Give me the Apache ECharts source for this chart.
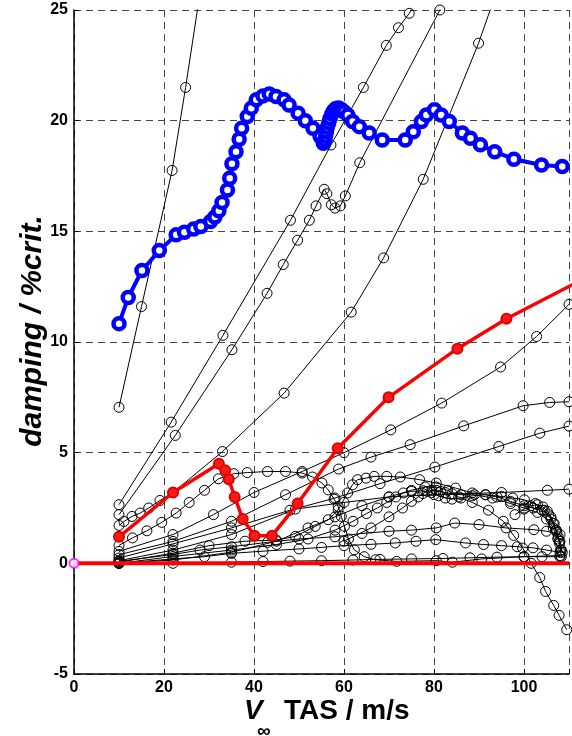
<!DOCTYPE html>
<html>
<head>
<meta charset="utf-8">
<script src="https://cdn.jsdelivr.net/npm/echarts@6/dist/echarts.min.js"></script>
<style>html,body{margin:0;padding:0;background:#fff}#c{width:572px;height:736px}</style>
</head>
<body>
<div id="c"></div>
<script>
// ---- tick labels ----
var xTicks = [0, 20, 40, 60, 80, 100];
var yTicks = [-5, 0, 5, 10, 15, 20, 25];

// ---- highlighted series ----
var blueSeries = [[10,10.83],[12.05,12.01],[15.1,13.23],[18.95,14.13],[22.7,14.84],[24.55,14.96],[26.6,15.11],[28.2,15.22],[30.35,15.44],[31.3,15.65],[32.2,15.93],[32.9,16.3],[34.1,16.87],[34.6,17.4],[35.1,18.05],[36.0,18.6],[36.7,19.16],[37.25,19.66],[38.5,20.19],[39.4,20.56],[40.5,20.94],[42.0,21.12],[43.4,21.21],[44.9,21.09],[46.7,20.94],[47.8,20.71],[49.8,20.34],[51.4,20.0],[53.1,19.66],[54.7,19.28],[55.4,18.98],[55.7,19.1],[55.9,19.3],[56.1,19.5],[56.3,19.7],[56.6,19.9],[56.9,20.1],[57.3,20.3],[57.7,20.45],[58.2,20.55],[58.8,20.57],[59.4,20.5],[60.0,20.4],[60.85,20.26],[61.9,19.96],[63.4,19.73],[65.6,19.44],[68.5,19.13],[73.6,19.13],[75.4,19.5],[77.2,19.96],[78.3,20.26],[80.1,20.49],[81.6,20.26],[83.4,19.96],[86.3,19.44],[88.1,19.21],[90.3,18.91],[93.5,18.6],[97.75,18.26],[103.9,18.0],[108.5,17.93]];
var redSeries = [[10,1.2],[22,3.2],[32.2,4.5],[33.6,4.2],[34.4,3.8],[35.7,3.0],[37.5,2.0],[40.1,1.25],[44,1.25],[49.7,2.7],[58.6,5.2],[69.9,7.5],[85.2,9.7],[96.1,11.05],[112,12.72]];
var zeroLine = [[0,0],[110,0]];
var originMark = [[0,0]];

// ---- black mode series ----
var k1 = [[10,7.05],[15,11.6],[21.8,17.75],[24.8,21.5],[27.8,25.5]];
var k2 = [[10,2.65],[21.6,6.38],[33.1,10.3],[48.1,15.5],[57.1,18.9],[64.3,21.5],[69.4,23.4],[72.1,24.2],[74.5,24.85],[77,25.7]];
var k3 = [[10,2.2],[22.5,5.78],[35.1,9.65],[42.9,12.2],[46.5,13.5],[49.7,14.6],[52.3,15.5],[53.8,16.15],[55.6,16.9],[56.2,16.7],[57.2,16.2],[58,16.05],[59.2,16.15],[60.3,16.6],[63.5,18.1],[81.3,25.0],[83,25.8]];
var k4 = [[10,1.71],[11.1,1.89],[12.9,2.12],[14.7,2.27],[16.6,2.5],[19.1,2.84],[22,3.2],[33,5.05],[46.7,7.69],[61.6,11.35],[68.8,13.8],[77.6,17.35],[89.9,23.5],[93,25.3]];
var k5 = [[10,0.81],[13,1.15],[16.2,1.47],[19.5,1.85],[22.7,2.27],[25.6,2.75],[29,3.3],[32.1,3.82],[35.5,4.05],[38.5,4.1],[43,4.15],[47,4.15],[50.7,4.08],[53,3.9],[55.1,3.63],[56.5,3.32],[57.8,2.9],[58.7,2.57],[59.4,2.12],[60.1,1.67],[61,1.1],[62.3,0.61],[64.5,0.3],[67,0.16],[71.7,0.09],[80.5,0.12],[84.1,0.05],[90.6,0.2],[100,0.3],[108,0.35]];
var k6 = [[10,0.54],[22,1.3],[31,2.2],[40,3.2],[50.7,4.15],[60,5.0],[70.4,6.03],[81.7,7.24],[94.8,8.87],[102.8,10.25],[110,11.7]];
var k7 = [[10,0.39],[22,0.99],[35,1.9],[47,3.1],[58.8,4.26],[66,4.8],[74.7,5.36],[86.6,6.21],[99.8,7.12],[105.7,7.27],[110,7.3]];
var k8 = [[10,0.24],[22,0.88],[35,1.6],[48,2.4],[58,2.95],[68,3.6],[80.2,4.35],[94.4,5.28],[103.5,5.88],[110,6.2]];
var k9 = [[10,0.12],[22,0.6],[35,1.3],[49.2,2.45],[60,2.75],[70,3.0],[80,3.1],[95,3.2],[105.2,3.3],[110,3.35]];
var k10 = [[10,0.05],[22,0.46],[30,0.8],[38,1.0],[45,1.05],[49.2,1.22],[53.6,1.67],[56.5,1.97],[58.7,2.42],[60.8,3.18],[61.9,3.55],[63,3.78],[64.9,3.85],[66.7,3.93],[69.5,3.93],[72.5,3.9],[76.8,3.78],[80.5,3.63],[84.8,3.4],[88.5,3.18],[91.5,3.1],[95,3.02],[97.5,2.95],[100.1,2.87],[102.5,2.7],[104.5,2.4],[106,2.0],[107,1.5],[107.8,1.0],[108.3,0.6]];
var k11 = [[10,0],[22,0.31],[35,0.6],[45,0.85],[52,1.1],[58,1.5],[62,1.9],[65,2.25],[67.4,2.5],[69.5,2.75],[71.5,3.0],[73.2,3.18],[75,3.25],[77.6,3.28],[79.5,3.2],[81,3.05],[82.5,2.95],[84,2.9],[86,2.95],[88.5,3.05],[91.4,3.1],[94,3.0],[97,2.8],[100,2.6],[102,2.5],[104,2.4],[105.5,2.2],[106.5,1.8],[107.3,1.4],[108,1.0],[108.5,0.5]];
var k12 = [[10,0],[22,0.15],[35,0.5],[45,1.0],[52,1.6],[58,2.1],[64,2.6],[70,3.0],[75,3.3],[78,3.45],[80.5,3.45],[83,3.3],[85.5,3.0],[88.5,2.75],[92.1,2.4],[95.4,1.9],[97.7,1.26],[99.7,0.69],[101.6,0.0],[103.5,-0.64],[104.8,-1.27],[106.6,-1.9],[107.8,-2.35],[109.5,-3]];
var k13 = [[10,0.0],[22,0.2],[29,0.3],[35,0.45],[42,0.55],[50,0.65],[55,0.72],[60,0.8],[66,0.86],[71.4,0.92],[76,1.0],[80.4,1.07],[87,0.92],[91,0.85],[95,0.8],[98.5,0.75],[102,0.7],[105,0.6],[108,0.5]];
var k14 = [[10,0.09],[22,0.4],[28,0.6],[35,0.75],[43,0.95],[50,1.1],[58,1.2],[64,1.35],[70,1.45],[75,1.5],[80.5,1.6],[84.6,1.82],[90,1.75],[96,1.6],[102.2,1.52],[105,1.45],[108,1.3]];
var k15 = [[10,0],[22,0.0],[35,0.05],[42,0.08],[48,0.1],[55,0.12],[62,0.15],[68,0.18],[75,0.2],[82,0.22],[88,0.25],[94,0.28],[100,0.3],[104,0.3],[108,0.3]];
var k16 = [[98,2.2],[100,2.45],[101.5,2.6],[103,2.65],[104.2,2.55],[105.2,2.35],[106,2.1],[106.7,1.8],[107.2,1.5],[107.6,1.2],[107.9,0.9],[108.1,0.6],[108.3,0.3]];
var k17 = [[60,1.0],[66,1.6],[70,2.1],[73,2.5],[75,2.8],[76.5,3.0],[77.5,3.15],[78.5,3.25],[79.5,3.3],[80.5,3.3],[81.5,3.25],[82.5,3.2],[84,3.15],[86,3.1],[89,3.1],[93,2.95],[97,2.7],[100,2.5],[103,2.3],[105,2.0],[106.5,1.6],[107.5,1.1]];
var blackSeries = [k1,k2,k3,k4,k5,k6,k7,k8,k9,k10,k11,k12,k13,k14,k15,k16,k17];

var FONT = '"Liberation Sans", Arial, Helvetica, sans-serif';
var series = [];
blackSeries.forEach(function (d) {
  series.push({
    type: 'line', data: d, symbol: 'circle', symbolSize: 10,
    lineStyle: { color: '#000', width: 1 },
    itemStyle: { color: 'rgba(0,0,0,0)', borderColor: '#000', borderWidth: 1 },
    z: 2
  });
});
series.push({
  type: 'line', data: zeroLine, symbol: 'none',
  lineStyle: { color: '#ff0000', width: 4 }, z: 3
});
series.push({
  type: 'line', data: redSeries, symbol: 'circle', symbolSize: 10,
  lineStyle: { color: '#ff0000', width: 3.5 },
  itemStyle: { color: '#ff1a1a', borderColor: '#e00000', borderWidth: 2 }, z: 4
});
series.push({
  type: 'line', data: blueSeries, symbol: 'circle', symbolSize: 11,
  lineStyle: { color: '#0000ff', width: 4 },
  itemStyle: { color: '#ffffff', borderColor: '#0000ff', borderWidth: 4.5 }, z: 5
});
series.push({
  type: 'scatter', data: originMark, symbol: 'circle', symbolSize: 9,
  itemStyle: { color: '#ffffff', borderColor: '#ff00ff', borderWidth: 2 }, z: 6
});

var chart = echarts.init(document.getElementById('c'), null, { renderer: 'canvas' });
chart.setOption({
  animation: false,
  backgroundColor: '#fff',
  grid: { left: 74, top: 10, width: 505, height: 664 },
  xAxis: [{
    type: 'value', min: 0, max: 110, interval: 20,
    axisLine: { show: true, onZero: false, lineStyle: { color: '#000', width: 1.5 } },
    axisTick: { show: true, inside: true, length: 5, lineStyle: { color: '#000' } },
    axisLabel: { color: '#000', fontFamily: FONT, fontWeight: 'bold', fontSize: 16, margin: 6,
      formatter: function (v) { return xTicks.indexOf(v) >= 0 ? String(v) : ''; } },
    splitLine: { show: true, lineStyle: { color: '#444', type: [7, 5], width: 1 } }
  }, {
    type: 'value', min: 0, max: 110, position: 'top',
    axisLine: { show: true, lineStyle: { color: '#000', width: 1.5 } },
    axisTick: { show: false }, axisLabel: { show: false }, splitLine: { show: false }
  }],
  yAxis: {
    type: 'value', min: -5, max: 25, interval: 5,
    axisLine: { show: true, onZero: false, lineStyle: { color: '#000', width: 1.5 } },
    axisTick: { show: true, inside: true, length: 5, lineStyle: { color: '#000' } },
    axisLabel: { color: '#000', fontFamily: FONT, fontWeight: 'bold', fontSize: 16, margin: 6,
      formatter: function (v) { return yTicks.indexOf(v) >= 0 ? String(v) : ''; } },
    splitLine: { show: true, lineStyle: { color: '#444', type: [7, 5], width: 1 } },
    name: 'damping / %crit.', nameLocation: 'middle', nameGap: 26, nameRotate: 90, nameMoveOverlap: false,
    nameTextStyle: { color: '#000', fontFamily: FONT, fontWeight: 'bold', fontStyle: 'italic', fontSize: 30, padding: [0, 0, 0, 22] }
  },
  graphic: [
    { type: 'text', left: 244, top: 697, style: { text: 'V', font: 'italic bold 28px ' + FONT, fill: '#000' } },
    { type: 'text', left: 257, top: 722, style: { text: '\u221E', font: 'bold 19px ' + FONT, fill: '#000' } },
    { type: 'text', left: 284, top: 697, style: { text: 'TAS / m/s', font: 'bold 28px ' + FONT, fill: '#000' } }
  ],
  series: series
});
</script>
</body>
</html>
